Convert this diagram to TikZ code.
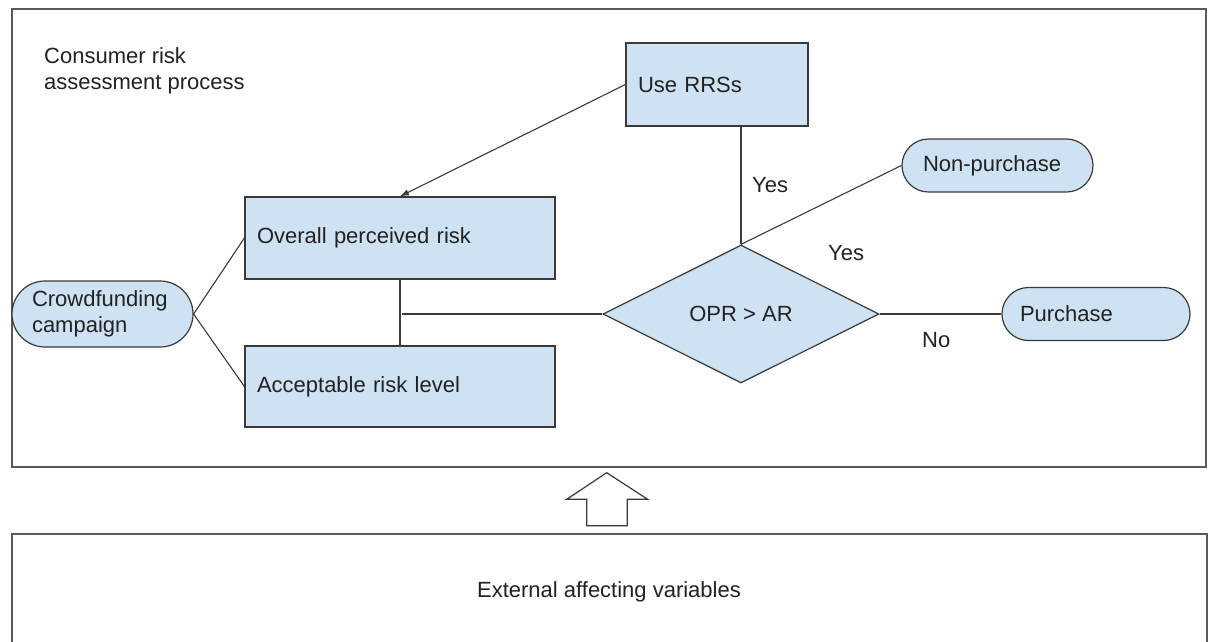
\documentclass[tikz,border=0pt]{standalone}
\usepackage{fontspec}
\setmainfont{Liberation Sans}
\usetikzlibrary{shapes.geometric,calc,arrows.meta}
\definecolor{boxfill}{HTML}{CFE2F3}
\definecolor{edgec}{HTML}{3A3A3A}
\definecolor{framec}{HTML}{5A5A5A}
\definecolor{inkc}{HTML}{222222}

\tikzset{
  every node/.style={font=\fontsize{22}{26}\selectfont, text=inkc},
  procbox/.style={draw=edgec, fill=boxfill, line width=1.2pt, inner sep=0pt, align=left},
  termbox/.style={procbox, rounded corners=26.5pt},
  decbox/.style={procbox, diamond, align=center},
  link/.style={draw=edgec, line width=1.1pt},
  framebox/.style={draw=framec, line width=1.6pt, inner sep=0pt, anchor=north west},
  lbl/.style={anchor=base west, inner sep=0pt}
}

\begin{document}
\begin{tikzpicture}[x=1pt,y=-1pt]
\useasboundingbox (0,0) rectangle (1208,641);
\clip (0,0) rectangle (1208,641);
\fill[white] (0,0) rectangle (1208,641);

% outer frames
\node[framebox, minimum width=1194pt, minimum height=458pt] (procframe) at (11,8) {};
\node[framebox, minimum width=1195pt, minimum height=130pt] (extframe) at (11,533) {};

% heading
\node[anchor=north west, inner sep=0pt, align=left] (title) at (44,47)
  {Consumer risk\\assessment process};

% process elements
\node[procbox, minimum width=182pt, minimum height=83pt, text width=158pt] (rrs) at (717,84.5) {Use RRSs};
\node[procbox, minimum width=310pt, minimum height=82pt, text width=286pt] (opr) at (400,238) {Overall perceived risk};
\node[procbox, minimum width=310pt, minimum height=81pt, text width=286pt] (acc) at (400,386.5) {Acceptable risk level};
\node[termbox, rounded corners=33pt, minimum width=181pt, minimum height=66pt, text width=141pt] (crowd) at (102.5,314) {Crowdfunding\\campaign};
\node[termbox, minimum width=191pt, minimum height=53pt, text width=149pt] (nonpur) at (997.5,165.5) {Non-purchase};
\node[termbox, minimum width=188pt, minimum height=53pt, text width=152pt] (pur) at (1096,314) {Purchase};
\node[decbox, minimum width=276pt, minimum height=138pt] (dec) at (741,314) {OPR > AR};

% branch labels
\node[lbl] (yesa) at (752,192) {Yes};
\node[lbl] (yesb) at (828,260) {Yes};
\node[lbl] (no) at (922,347) {No};

% connectors
\coordinate (join) at ($(opr.south |- dec.west)+(2,0)$);
\draw[link] (crowd.east) -- (opr.west);
\draw[link] (crowd.east) -- (acc.west);
\draw[link] (opr.south) -- (acc.north);
\draw[link] (join) -- (dec.west);
\draw[link, -{Latex[length=9pt,width=6.5pt]}] (rrs.west) -- (opr.north);
\draw[link] (dec.north) -- (dec.north |- rrs.south);
\draw[link] (dec.north) -- (nonpur.west);
\draw[link] (dec.east) -- (pur.west);

% block arrow between the two frames
\draw[draw=edgec, line width=1.2pt, fill=white]
  (586.7,525.7) -- (586.7,499.3) -- (566.7,499.3) -- (606.7,472.7)
  -- (647.7,499.3) -- (627.3,499.3) -- (627.3,525.7) -- cycle;

\node[anchor=base, inner sep=0pt] (ext) at (609,597) {External affecting variables};
\end{tikzpicture}
\end{document}
